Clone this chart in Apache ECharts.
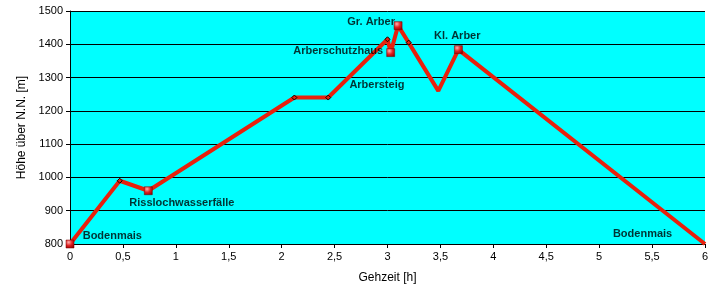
<!DOCTYPE html>
<html><head><meta charset="utf-8">
<script src="https://cdn.jsdelivr.net/npm/echarts@6/dist/echarts.min.js"></script>
<style>html,body{margin:0;padding:0;background:#fff}#c{width:722px;height:295px}</style>
</head><body><div id="c"></div>
<script>
// Route profile
const times   = [0, 0.47, 0.74, 2.12, 2.44, 3.0, 3.03, 3.1, 3.2, 3.48, 3.67, 6];
const heights = [800, 990, 960, 1240, 1240, 1415, 1375, 1456, 1405, 1260, 1384, 800];
const markers = ['square','diamond','square','diamond','diamond','diamond','square','square','diamond','none','square','none'];

// Annotation texts (anchor: left/middle of text, in data units)
const labelTexts = ['Bodenmais','Risslochwasserfälle','Arbersteig','Arberschutzhaus','Gr. Arber','Kl. Arber','Bodenmais'];
const labelX     = [0.12, 0.56, 2.64, 2.11, 2.62, 3.44, 5.13];
const labelY     = [825, 924, 1278, 1380, 1467, 1425, 831];

const yTicks = [800, 900, 1000, 1100, 1200, 1300, 1400, 1500];
const xTicks = [0, 0.5, 1, 1.5, 2, 2.5, 3, 3.5, 4, 4.5, 5, 5.5, 6];

const squareStyle = {
  color: {type:'radial', x:0.35, y:0.3, r:0.8, colorStops:[{offset:0,color:'#ffb0b0'},{offset:0.5,color:'#e02020'},{offset:1,color:'#900000'}]},
  borderColor:'#700000', borderWidth:0.5
};
const diamondStyle = { color:'#e8200c', borderColor:'#000', borderWidth:1 };

const lineData = times.map((t,i)=>{
  const m = markers[i];
  if (m==='square') return {value:[t,heights[i]], symbol:'rect', symbolSize:8, itemStyle:squareStyle};
  if (m==='diamond') return {value:[t,heights[i]], symbol:'diamond', symbolSize:5, itemStyle:diamondStyle};
  return {value:[t,heights[i]], symbol:'none'};
});
const labelData = labelTexts.map((s,i)=>({value:[labelX[i],labelY[i]], name:s}));

const font = 'Liberation Sans, Arial, sans-serif';
const chart = echarts.init(document.getElementById('c'));
chart.setOption({
  animation:false,
  grid:{left:70, right:17, top:11, bottom:51, show:true, backgroundColor:'#00ffff', borderWidth:0},
  xAxis:{type:'value', min:0, max:6, interval:0.5,
    name:'Gehzeit [h]', nameLocation:'middle', nameGap:28,
    nameTextStyle:{fontFamily:font, fontSize:12, color:'#000'},
    axisLine:{show:true, onZero:false, lineStyle:{color:'#000', width:1}},
    axisTick:{show:true, length:4, lineStyle:{color:'#000'}},
    axisLabel:{fontFamily:font, fontSize:11, color:'#000', margin:7, formatter:v=>String(v).replace('.',',')},
    splitLine:{show:false}},
  yAxis:{type:'value', min:800, max:1500, interval:100,
    name:'Höhe über N.N. [m]', nameLocation:'middle', nameGap:42, nameRotate:90,
    nameTextStyle:{fontFamily:font, fontSize:12, color:'#000'},
    axisLine:{show:true, lineStyle:{color:'#000', width:1}},
    axisTick:{show:true, length:4, lineStyle:{color:'#000'}},
    axisLabel:{fontFamily:font, fontSize:11, color:'#000', margin:7, formatter:v=>String(v)},
    splitLine:{show:true, lineStyle:{color:'#000', width:1}}},
  series:[
    {type:'line', data:lineData, lineStyle:{color:'#e8200c', width:4}, showAllSymbol:true, z:3},
    {type:'scatter', data:labelData, symbolSize:0, z:5, silent:true,
      label:{show:true, position:'right', distance:0, formatter:p=>p.name,
        fontFamily:font, fontSize:11, fontWeight:'bold', color:'#000'}}
  ]
});
</script></body></html>
